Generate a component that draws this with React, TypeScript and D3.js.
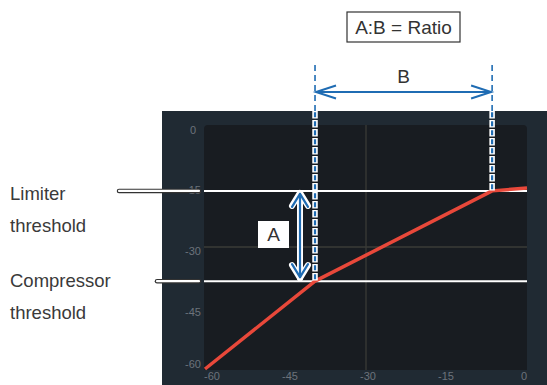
import React from "react";
import * as d3 from "d3";

// ---- data ----
const inputLevels = [-60, -39.5, -6.5, 0];
const outputLevels = [-60, -38.4, -16.2, -15.5];
const xTicks = [-60, -45, -30, -15, 0];
const yTicks = [0, -15, -30, -45, -60];
const compressorThreshold = -38.4; // output level
const limiterThreshold = -16.2;
const compressorKneeInput = -39.5;
const limiterKneeInput = -6.5;
const sideLabels = [
  ["Limiter", "threshold"],
  ["Compressor", "threshold"],
];

const W = 547;
const H = 385;
const BLUE = "#1f6cb3";
const FONT = "'Liberation Sans', Arial, sans-serif";

export default function App() {
  const x = d3.scaleLinear().domain([-60, 0]).range([205, 527]);
  const y = d3.scaleLinear().domain([-60, 0]).range([369, 125]);
  const xLab = d3.scaleLinear().domain([-60, 0]).range([212, 524]);

  const pts = inputLevels.map((v, i) => [x(v), y(outputLevels[i])] as [number, number]);
  const line = d3.line();

  const yComp = y(compressorThreshold);
  const yLim = y(limiterThreshold);
  const xK1 = x(compressorKneeInput);
  const xK2 = x(limiterKneeInput);
  const panelTop = 111;
  const plotL = 204, plotR = 527, plotT = 125, plotB = 370;

  const chevronH = (xt: number, yy: number, dir: number) =>
    `M${xt + dir * 20},${yy - 6.5} L${xt},${yy} L${xt + dir * 20},${yy + 6.5}`;
  const chevronV = (xx: number, yt: number, dir: number) =>
    `M${xx - 8},${yt + dir * 13} L${xx},${yt} L${xx + 8},${yt + dir * 13}`;

  const aX = 300;
  const aTop = yLim + 2;
  const aBot = yComp - 3;

  return (
    <svg width={W} height={H} style={{ position: "absolute", left: 0, top: 0 }}>
      <rect x={0} y={0} width={W} height={H} fill="#ffffff" />
      {/* outer panel */}
      <rect x={162} y={panelTop} width={W - 162} height={H - panelTop} fill="#202a33" />
      {/* inner plot */}
      <path
        d={`M${plotL},${plotB} L${plotL},${plotT + 4} Q${plotL},${plotT} ${plotL + 4},${plotT} L${plotR - 4},${plotT} Q${plotR},${plotT} ${plotR},${plotT + 4} L${plotR},${plotB} Z`}
        fill="#181c21"
      />
      {/* center gridlines */}
      <line x1={x(-30)} x2={x(-30)} y1={plotT} y2={plotB} stroke="#3a3b37" strokeWidth={1.3} />
      <line x1={plotL} x2={plotR} y1={y(-30)} y2={y(-30)} stroke="#3a3b37" strokeWidth={1.3} />

      {/* tick labels */}
      {xTicks.map((t) => (
        <text key={"x" + t} x={xLab(t)} y={380} textAnchor="middle" fontSize={11} fill="#6c737b" fontFamily={FONT}>
          {t}
        </text>
      ))}
      {yTicks.map((t) => (
        <text key={"y" + t} x={193} y={Math.min(Math.max(y(t) + 4, 130), 364) + 4} textAnchor="middle" fontSize={11} fill="#6c737b" fontFamily={FONT}>
          {t}
        </text>
      ))}

      {/* threshold lines in plot */}
      <line x1={plotL} x2={plotR} y1={yLim} y2={yLim} stroke="#ffffff" strokeWidth={2} />
      <line x1={plotL} x2={plotR} y1={yComp} y2={yComp} stroke="#ffffff" strokeWidth={2} />

      {/* leader lines */}
      {[
        [119, yLim],
        [157, yComp],
      ].map(([x0, yy], i) => (
        <g key={"ld" + i}>
          <line x1={x0} x2={199} y1={yy} y2={yy} stroke="#333333" strokeWidth={4.5} strokeLinecap="round" />
          <line x1={x0} x2={199} y1={yy} y2={yy} stroke="#ffffff" strokeWidth={2.2} strokeLinecap="round" />
        </g>
      ))}

      {/* transfer curve */}
      <path d={line(pts) || ""} fill="none" stroke="#e8483a" strokeWidth={3.5} strokeLinejoin="round" />

      {/* vertical dashed lines */}
      {[
        [xK1, yComp],
        [xK2, yLim],
      ].map(([xx, yEnd], i) => (
        <g key={"vd" + i}>
          <line x1={xx} x2={xx} y1={65} y2={panelTop} stroke={BLUE} strokeWidth={1.6} strokeDasharray="6 4" />
          <line x1={xx} x2={xx} y1={panelTop} y2={yEnd} stroke="#ffffff" strokeWidth={5.5} strokeDasharray="7.5 1.5" />
          <line x1={xx} x2={xx} y1={panelTop} y2={yEnd} stroke={BLUE} strokeWidth={2.2} strokeDasharray="5 4" strokeDashoffset={-1.2} />
        </g>
      ))}

      {/* B arrow */}
      <line x1={xK1 + 1} x2={xK2 - 1} y1={92} y2={92} stroke={BLUE} strokeWidth={2} />
      <path d={chevronH(xK1 + 1, 92, 1)} fill="none" stroke={BLUE} strokeWidth={2} />
      <path d={chevronH(xK2 - 1, 92, -1)} fill="none" stroke={BLUE} strokeWidth={2} />
      <text x={(xK1 + xK2) / 2} y={83} textAnchor="middle" fontSize={19} fill="#333" fontFamily={FONT}>
        B
      </text>

      {/* A arrow with white halo */}
      <g fill="none" strokeLinecap="round" strokeLinejoin="round">
        <line x1={aX} x2={aX} y1={aTop} y2={aBot} stroke="#ffffff" strokeWidth={6} />
        <path d={chevronV(aX, aTop, 1)} stroke="#ffffff" strokeWidth={6} />
        <path d={chevronV(aX, aBot, -1)} stroke="#ffffff" strokeWidth={6} />
        <line x1={aX} x2={aX} y1={aTop + 1} y2={aBot - 1} stroke={BLUE} strokeWidth={2.2} />
        <path d={chevronV(aX, aTop + 1, 1)} stroke={BLUE} strokeWidth={2.2} />
        <path d={chevronV(aX, aBot - 1, -1)} stroke={BLUE} strokeWidth={2.2} />
      </g>
      <rect x={258} y={221} width={31} height={27} fill="#ffffff" />
      <text x={273.5} y={241} textAnchor="middle" fontSize={19} fill="#333" fontFamily={FONT}>
        A
      </text>

      {/* ratio box */}
      <rect x={347} y={12} width={113} height={30} fill="#ffffff" stroke="#333" strokeWidth={1.2} />
      <text x={403.5} y={34} textAnchor="middle" fontSize={19} fill="#333" fontFamily={FONT}>
        A:B = Ratio
      </text>

      {/* side labels */}
      {sideLabels.map((lines, i) =>
        lines.map((s, j) => (
          <text key={"s" + i + j} x={10} y={(i === 0 ? 200 : 287) + j * 32} fontSize={18.5} fill="#3a3a3a" fontFamily={FONT}>
            {s}
          </text>
        ))
      )}
    </svg>
  );
}
